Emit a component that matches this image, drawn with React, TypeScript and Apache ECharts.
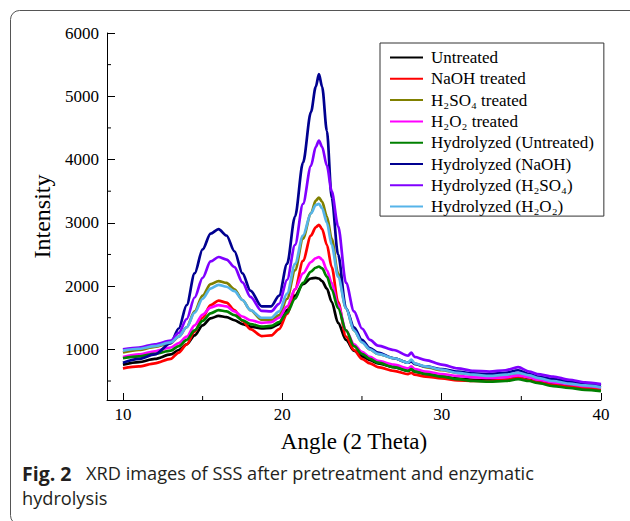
import React, { useEffect, useRef } from 'react';
import * as echarts from 'echarts';

// 2-theta angles (degrees) shared by all series
const angles = [10, 11, 12, 13, 13.5, 14, 14.5, 15, 15.5, 16, 16.5, 17, 17.5, 18, 18.7, 19.3, 19.8, 20.3, 20.8, 21.3, 21.8, 22.1, 22.3, 22.5, 22.8, 23.1, 23.5, 24, 24.5, 25, 25.5, 26, 27, 27.9, 28.1, 28.3, 29, 30, 31, 32, 33, 34, 34.8, 35.5, 36, 37, 38, 39, 40];

const untreated = [760, 800, 850, 920, 990, 1080, 1220, 1380, 1490, 1530, 1510, 1460, 1400, 1360, 1330, 1340, 1400, 1620, 1850, 2030, 2120, 2130, 2120, 2080, 1960, 1750, 1420, 1150, 980, 890, 830, 780, 720, 660, 690, 650, 610, 570, 540, 520, 510, 520, 550, 520, 490, 450, 420, 400, 380];
const naohTreated = [700, 730, 780, 850, 950, 1080, 1280, 1500, 1700, 1770, 1740, 1620, 1450, 1320, 1210, 1220, 1320, 1560, 1950, 2400, 2800, 2930, 2970, 2900, 2650, 2300, 1750, 1200, 990, 850, 780, 720, 660, 610, 630, 600, 570, 540, 510, 500, 500, 520, 550, 510, 480, 440, 410, 390, 370];
const h2so4Treated = [950, 990, 1040, 1100, 1200, 1350, 1600, 1850, 2030, 2080, 2050, 1950, 1780, 1620, 1470, 1460, 1540, 1800, 2250, 2750, 3150, 3350, 3400, 3330, 3100, 2750, 2200, 1650, 1300, 1120, 1000, 930, 860, 790, 820, 770, 720, 670, 630, 600, 580, 590, 610, 580, 540, 500, 460, 430, 400];
const h2o2Treated = [880, 920, 970, 1030, 1100, 1200, 1380, 1550, 1660, 1700, 1680, 1600, 1520, 1460, 1420, 1430, 1500, 1680, 1950, 2200, 2380, 2440, 2460, 2420, 2250, 2050, 1700, 1300, 1080, 960, 880, 820, 760, 700, 730, 690, 650, 610, 580, 560, 550, 560, 590, 560, 520, 480, 450, 420, 400];
const hydUntreated = [860, 890, 930, 980, 1050, 1150, 1300, 1450, 1570, 1620, 1600, 1540, 1460, 1400, 1360, 1370, 1430, 1580, 1800, 2050, 2230, 2290, 2310, 2280, 2150, 1950, 1650, 1300, 1050, 930, 850, 790, 720, 660, 690, 650, 610, 570, 530, 500, 490, 500, 530, 500, 470, 420, 390, 360, 340];
const hydNaoh = [790, 850, 920, 1100, 1330, 1700, 2200, 2580, 2830, 2900, 2800, 2550, 2200, 1930, 1680, 1680, 1850, 2350, 3100, 3950, 4750, 5150, 5350, 5150, 4450, 3400, 2500, 1650, 1350, 1150, 1020, 950, 860, 790, 810, 770, 730, 690, 650, 620, 610, 630, 670, 610, 570, 530, 490, 460, 430];
const hydH2so4 = [1000, 1030, 1080, 1140, 1260, 1480, 1820, 2130, 2390, 2460, 2420, 2300, 2060, 1830, 1610, 1600, 1720, 2100, 2650, 3300, 3900, 4200, 4300, 4200, 3900, 3500, 2950, 2050, 1600, 1330, 1150, 1060, 990, 900, 950, 880, 830, 760, 700, 660, 650, 670, 720, 650, 610, 570, 520, 480, 450];
const hydH2o2 = [980, 1010, 1050, 1110, 1200, 1350, 1580, 1800, 1960, 2020, 1990, 1920, 1780, 1620, 1500, 1500, 1600, 1880, 2350, 2800, 3150, 3280, 3300, 3230, 3000, 2650, 2150, 1650, 1300, 1110, 1000, 930, 860, 790, 840, 780, 730, 680, 630, 600, 580, 600, 630, 590, 550, 500, 460, 430, 400];

const seriesNames = [
  'Untreated',
  'NaOH treated',
  'H₂SO₄ treated',
  'H₂O₂ treated',
  'Hydrolyzed (Untreated)',
  'Hydrolyzed (NaOH)',
  'Hydrolyzed (H₂SO₄)',
  'Hydrolyzed (H₂O₂)',
];
const seriesValues = [untreated, naohTreated, h2so4Treated, h2o2Treated, hydUntreated, hydNaoh, hydH2so4, hydH2o2];
const seriesColors = ['#000000', '#ff0000', '#808000', '#ff00ff', '#008000', '#000090', '#8000ff', '#56b4e9'];

const X_MIN = 9;
const X_MAX = 40;
const Y_MIN = 200;
const Y_MAX = 6000;
const xMajorTicks = [10, 20, 30, 40];
const xMinorTicks = [15, 25, 35];
const yMajorTicks = [1000, 2000, 3000, 4000, 5000, 6000];
const yMinorTicks = [500, 1500, 2500, 3500, 4500, 5500];

const SERIF = '"Liberation Serif", "Times New Roman", serif';
const SANS = '"Open Sans", "Noto Sans", sans-serif';

export default function App() {
  const ref = useRef<HTMLDivElement>(null);
  useEffect(() => {
    const chart = echarts.init(ref.current as HTMLDivElement, null, { renderer: 'svg' });
    const lineSeries = seriesNames.map((name, i) => ({
      name,
      type: 'line',
      showSymbol: false,
      symbol: 'none',
      smooth: 0.3,
      smoothMonotone: 'x',
      color: seriesColors[i],
      lineStyle: { color: seriesColors[i], width: 2.7 },
      data: angles.map((a, j) => [a, seriesValues[i][j]]),
    }));
    const yMinorSeries = {
      type: 'custom',
      name: 'y minor ticks',
      silent: true,
      clip: false,
      data: yMinorTicks.map((v) => [X_MIN, v]),
      renderItem: (_params: any, api: any) => {
        const p = api.coord([api.value(0), api.value(1)]);
        return {
          type: 'line',
          shape: { x1: p[0], y1: p[1], x2: p[0] + 4, y2: p[1] },
          style: { stroke: '#000000', lineWidth: 1 },
        };
      },
    };
    const xMinorSeries = {
      type: 'custom',
      name: 'x minor ticks',
      silent: true,
      clip: false,
      data: xMinorTicks.map((v) => [v, Y_MIN]),
      renderItem: (_params: any, api: any) => {
        const p = api.coord([api.value(0), api.value(1)]);
        return {
          type: 'line',
          shape: { x1: p[0], y1: p[1], x2: p[0], y2: p[1] - 4 },
          style: { stroke: '#000000', lineWidth: 1 },
        };
      },
    };
    const option = {
      animation: false,
      backgroundColor: '#ffffff',
      grid: { left: 107, top: 33, width: 494, height: 367, containLabel: false },
      legend: {
        orient: 'vertical',
        left: 380,
        top: 43,
        data: seriesNames,
        icon: 'rect',
        itemWidth: 33,
        itemHeight: 2,
        itemGap: 4.3,
        padding: [6, 10, 1, 10],
        borderColor: '#333333',
        borderWidth: 1,
        textStyle: { fontFamily: SERIF, fontSize: 17, color: '#000000', padding: [0, 0, 0, 3] },
      },
      xAxis: {
        type: 'value',
        min: X_MIN,
        max: X_MAX,
        position: 'bottom',
        name: 'Angle (2 Theta)',
        nameLocation: 'middle',
        nameGap: 30,
        nameTextStyle: { fontFamily: SERIF, fontSize: 23, color: '#000000' },
        axisLine: { show: true, lineStyle: { color: '#000000', width: 1 } },
        axisTick: { show: true, inside: true, length: 7, customValues: xMajorTicks, lineStyle: { color: '#000000' } },
        axisLabel: { customValues: xMajorTicks, fontFamily: SERIF, fontSize: 17, color: '#000000', margin: 6, formatter: (v: number) => String(v) },
        splitLine: { show: false },
      },
      yAxis: {
        type: 'value',
        min: Y_MIN,
        max: Y_MAX,
        position: 'left',
        name: 'Intensity',
        nameLocation: 'middle',
        nameGap: 48,
        nameTextStyle: { fontFamily: SERIF, fontSize: 24, color: '#000000' },
        axisLine: { show: true, lineStyle: { color: '#000000', width: 1 } },
        axisTick: { show: true, inside: true, length: 8, customValues: yMajorTicks, lineStyle: { color: '#000000' } },
        axisLabel: { customValues: yMajorTicks, fontFamily: SERIF, fontSize: 17, color: '#000000', margin: 8, formatter: (v: number) => String(v) },
        splitLine: { show: false },
      },
      series: [...lineSeries, yMinorSeries, xMinorSeries],
      graphic: [
        {
          type: 'rect',
          shape: { x: 10.5, y: 10.5, width: 700, height: 514, r: 9 },
          style: { fill: 'none', stroke: '#555555', lineWidth: 1 },
          silent: true,
        },
        {
          type: 'text',
          x: 22,
          y: 473,
          style: { text: 'Fig. 2', fontFamily: SANS, fontSize: 19.5, fontWeight: 'bold', fill: '#231f20', verticalAlign: 'middle' },
        },
        {
          type: 'text',
          x: 86,
          y: 473,
          style: { text: 'XRD images of SSS after pretreatment and enzymatic', fontFamily: SANS, fontSize: 18.2, fill: '#231f20', verticalAlign: 'middle' },
        },
        {
          type: 'text',
          x: 22,
          y: 498,
          style: { text: 'hydrolysis', fontFamily: SANS, fontSize: 18.2, fill: '#231f20', verticalAlign: 'middle' },
        },
      ],
    };
    chart.setOption(option as any);
    return () => chart.dispose();
  }, []);
  return <div ref={ref} style={{ position: 'fixed', left: 0, top: 0, width: 630, height: 521 }} />;
}
